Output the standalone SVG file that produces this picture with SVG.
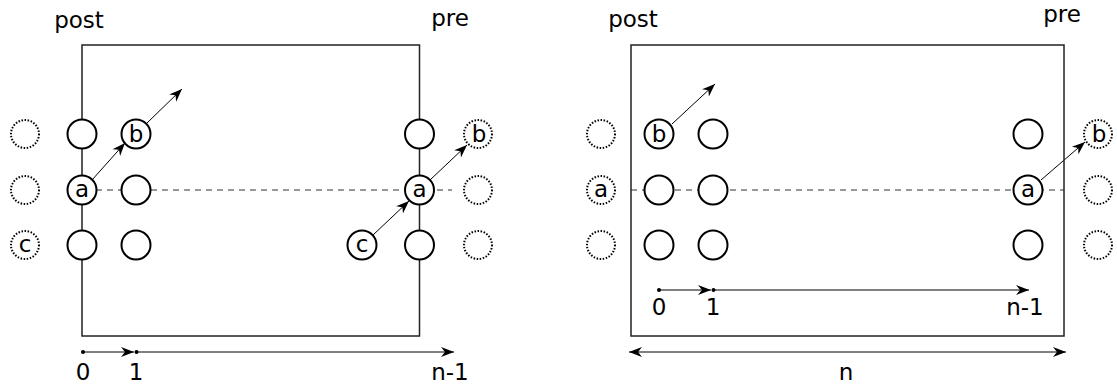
<svg xmlns="http://www.w3.org/2000/svg" width="1117" height="387" viewBox="0 0 1117 387">
<style>
text{font-family:"DejaVu Sans","Liberation Sans",sans-serif;font-size:23px;fill:#000;text-anchor:middle}
.frame{fill:none;stroke:#222;stroke-width:1.5}
.n{fill:#fff;stroke:#000;stroke-width:2}
.g{fill:#fff;stroke:#000;stroke-width:2;stroke-dasharray:1.5 1.6}
.dash{stroke:#333;stroke-width:1.2;stroke-dasharray:6 5;fill:none}
.arr{stroke:#000;stroke-width:1;fill:none;marker-end:url(#ah)}
.ax{stroke:#000;stroke-width:1;fill:none}
.dot{fill:#000}
</style>
<defs>
<marker id="ah" viewBox="-14 -6 15 12" refX="0" refY="0" markerWidth="15" markerHeight="12" markerUnits="userSpaceOnUse" orient="auto">
<path d="M0,0 L-13,-5 L-9,0 L-13,5 Z" fill="#000"/>
</marker>
<marker id="as" viewBox="-14 -6 15 12" refX="0" refY="0" markerWidth="15" markerHeight="12" markerUnits="userSpaceOnUse" orient="auto-start-reverse">
<path d="M0,0 L-13,-5 L-9,0 L-13,5 Z" fill="#000"/>
</marker>
</defs>

<g id="left-panel">
<rect class="frame" x="82" y="45" width="337.5" height="291"/>
<text x="79" y="28">post</text>
<text x="450" y="26">pre</text>
</g>

<g id="connectors">
<line class="dash" x1="96" y1="190" x2="452" y2="190"/>
<line class="arr" x1="92" y1="180" x2="125" y2="143"/>
<line class="arr" x1="147" y1="123" x2="182" y2="89"/>
<line class="arr" x1="430" y1="180" x2="467" y2="145"/>
<line class="arr" x1="373" y1="235" x2="409" y2="201"/>
<line class="dash" x1="631" y1="190" x2="1064" y2="190"/>
<line class="arr" x1="672" y1="124" x2="715" y2="84"/>
<line class="arr" x1="1041" y1="180" x2="1085" y2="142"/>
</g>

<g id="left-nodes">
<circle class="g" cx="25" cy="134" r="14"/>
<circle class="g" cx="25" cy="190" r="14"/>
<g id="l-c-ghost"><circle class="g" cx="25" cy="245" r="14"/><text x="25" y="252">c</text></g>
<circle class="n" cx="82" cy="134" r="14.5"/>
<g id="l-a"><circle class="n" cx="82" cy="190" r="14.5"/><text x="82" y="197">a</text></g>
<circle class="n" cx="82" cy="245" r="14.5"/>
<g id="l-b"><circle class="n" cx="136" cy="134" r="14.5"/><text x="136" y="142">b</text></g>
<circle class="n" cx="136" cy="190" r="14.5"/>
<circle class="n" cx="136" cy="245" r="14.5"/>
<circle class="n" cx="419.5" cy="134" r="14.5"/>
<g id="l-a2"><circle class="n" cx="419.5" cy="190" r="14.5"/><text x="419.5" y="197">a</text></g>
<circle class="n" cx="419.5" cy="245" r="14.5"/>
<g id="l-c"><circle class="n" cx="362" cy="245" r="14.5"/><text x="362" y="252">c</text></g>
<g id="l-b-ghost"><circle class="g" cx="478" cy="134" r="14"/><text x="479" y="142">b</text></g>
<circle class="g" cx="478" cy="190" r="14"/>
<circle class="g" cx="478" cy="245" r="14"/>
</g>

<g id="left-axis">
<circle class="dot" cx="83" cy="352" r="2"/>
<line class="arr" x1="83" y1="352" x2="134" y2="352"/>
<circle class="dot" cx="136.5" cy="352" r="2"/>
<line class="arr" x1="136.5" y1="352" x2="454" y2="352"/>
<text x="83" y="380">0</text>
<text x="136" y="380">1</text>
<text x="450" y="380">n-1</text>
</g>

<g id="right-panel">
<rect class="frame" x="631" y="45" width="433" height="291"/>
<text x="633" y="27">post</text>
<text x="1062" y="22">pre</text>
</g>

<g id="right-nodes">
<circle class="g" cx="601" cy="134" r="14"/>
<g id="r-a-ghost"><circle class="g" cx="601" cy="190" r="14"/><text x="601" y="197">a</text></g>
<circle class="g" cx="601" cy="245" r="14"/>
<g id="r-b"><circle class="n" cx="659" cy="134" r="14.5"/><text x="659" y="142">b</text></g>
<circle class="n" cx="659" cy="190" r="14.5"/>
<circle class="n" cx="659" cy="245" r="14.5"/>
<circle class="n" cx="713" cy="134" r="14.5"/>
<circle class="n" cx="713" cy="190" r="14.5"/>
<circle class="n" cx="713" cy="245" r="14.5"/>
<circle class="n" cx="1028" cy="134" r="14.5"/>
<g id="r-a"><circle class="n" cx="1028" cy="190" r="14.5"/><text x="1028" y="197">a</text></g>
<circle class="n" cx="1028" cy="245" r="14.5"/>
<g id="r-b-ghost"><circle class="g" cx="1098" cy="134" r="14"/><text x="1099" y="142">b</text></g>
<circle class="g" cx="1098" cy="190" r="14"/>
<circle class="g" cx="1098" cy="245" r="14"/>
</g>

<g id="right-axis">
<circle class="dot" cx="659" cy="290" r="2"/>
<line class="arr" x1="659" y1="290" x2="711" y2="290"/>
<circle class="dot" cx="713.5" cy="290" r="2"/>
<line class="arr" x1="713.5" y1="290" x2="1029" y2="290"/>
<text x="659" y="315">0</text>
<text x="713" y="315">1</text>
<text x="1025" y="315">n-1</text>
<line class="ax" x1="629" y1="352" x2="1066" y2="352" marker-start="url(#as)" marker-end="url(#ah)"/>
<text x="846" y="380">n</text>
</g>
</svg>
